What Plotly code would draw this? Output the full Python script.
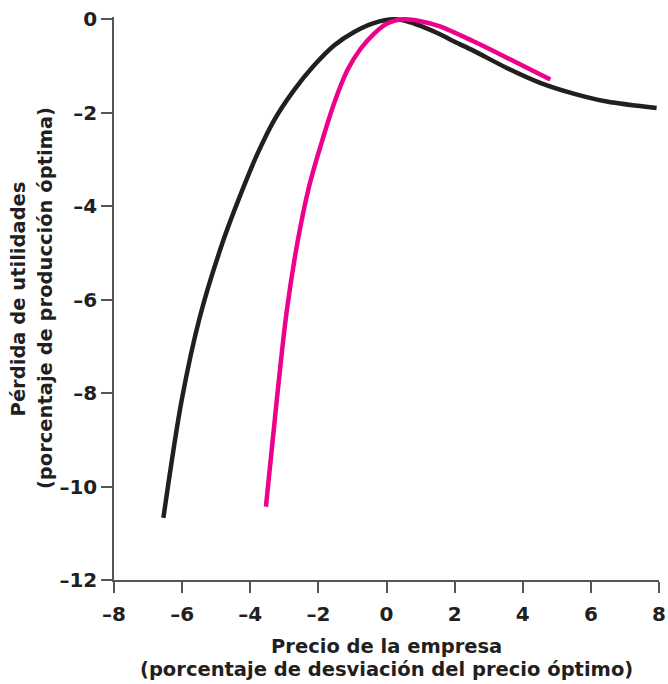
import plotly.graph_objects as go

# Black curve (price deviation %, profit loss %)
black_x = [-6.55, -6.01, -5.48, -4.79, -4.28, -3.79, -3.30, -2.72, -2.13, -1.54, -0.95, -0.37, 0.22,
           0.6, 1.0, 1.57, 2.0, 2.55, 3.53, 4.51, 5.49, 6.47, 7.93]
black_y = [-10.67, -8.14, -6.37, -4.73, -3.74, -2.88, -2.16, -1.52, -0.99, -0.56, -0.27, -0.08, 0.0,
           -0.04, -0.14, -0.32, -0.48, -0.67, -1.04, -1.36, -1.59, -1.76, -1.90]

# Pink curve
pink_x = [-3.54, -3.22, -2.93, -2.62, -2.28, -1.98, -1.54, -1.15, -0.76, -0.37, 0.02, 0.51,
          1.0, 1.57, 2.55, 3.53, 4.81]
pink_y = [-10.43, -8.14, -6.25, -4.80, -3.60, -2.82, -1.80, -1.09, -0.63, -0.31, -0.09, 0.0,
          -0.04, -0.15, -0.47, -0.82, -1.29]

x_ticks = [-8, -6, -4, -2, 0, 2, 4, 6, 8]
x_tick_labels = ["–8", "–6", "–4", "–2", "0", "2", "4", "6", "8"]
y_ticks = [0, -2, -4, -6, -8, -10, -12]
y_tick_labels = ["0", "–2", "–4", "–6", "–8", "–10", "–12"]

x_title_lines = ["Precio de la empresa", "(porcentaje de desviación del precio óptimo)"]
y_title_lines = ["Pérdida de utilidades", "(porcentaje de producción óptima)"]

fig = go.Figure()
fig.add_trace(go.Scatter(x=black_x, y=black_y, mode="lines",
                         line=dict(color="#231f20", width=4.5, shape="spline", smoothing=0.9),
                         showlegend=False))
fig.add_trace(go.Scatter(x=pink_x, y=pink_y, mode="lines",
                         line=dict(color="#ec008c", width=4.5, shape="spline", smoothing=0.9),
                         showlegend=False))

font_family = "'DejaVu Sans', sans-serif"
axis_common = dict(showgrid=False, zeroline=False, showline=True, linecolor="#555", linewidth=1.5,
                   ticks="outside", ticklen=11, tickcolor="#555", tickwidth=1.5, automargin=False,
                   ticklabeloverflow="allow",
                   tickfont=dict(size=20, family=font_family, weight="bold", color="#231f20"))

title_font = dict(size=19.5, family=font_family, weight="bold", color="#231f20")
annotations = [
    dict(text=x_title_lines[0], xref="paper", yref="paper", x=0.5, y=-0.119,
         xanchor="center", yanchor="middle", showarrow=False, font=title_font),
    dict(text=x_title_lines[1], xref="paper", yref="paper", x=0.5, y=-0.159,
         xanchor="center", yanchor="middle", showarrow=False, font=title_font),
    dict(text=y_title_lines[0], xref="paper", yref="paper", x=-0.1745, y=0.5, textangle=-90,
         xanchor="center", yanchor="middle", showarrow=False, font=title_font),
    dict(text=y_title_lines[1], xref="paper", yref="paper", x=-0.1255, y=0.5, textangle=-90,
         xanchor="center", yanchor="middle", showarrow=False, font=title_font),
]

fig.update_layout(
    width=668, height=684,
    margin=dict(l=114, r=9, t=17, b=104),
    paper_bgcolor="white", plot_bgcolor="white",
    font=dict(family=font_family, color="#231f20"),
    xaxis=dict(range=[-8, 8], tickmode="array", tickvals=x_ticks, ticktext=x_tick_labels,
               ticklabelstandoff=4, **axis_common),
    yaxis=dict(range=[-12, 0.05], tickmode="array", tickvals=y_ticks, ticktext=y_tick_labels,
               **axis_common),
    annotations=annotations,
)

fig.write_html("out.html", config={"displayModeBar": False},
               post_script="document.body.style.margin='0';")
